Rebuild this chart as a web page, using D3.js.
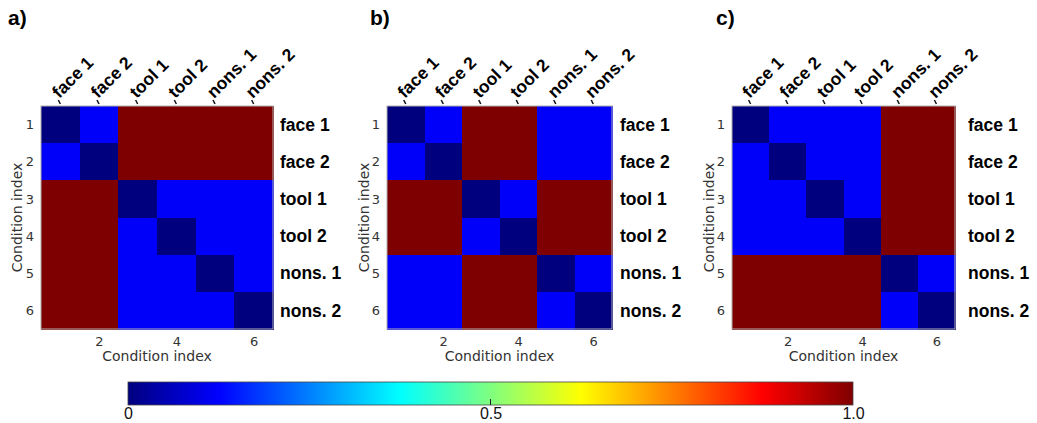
<!DOCTYPE html>
<html>
<head>
<meta charset="utf-8">
<script src="https://cdn.jsdelivr.net/npm/d3@7"></script>
<style>
  body { margin: 0; background: #fff; }
  svg { display: block; }
</style>
</head>
<body>
<svg id="chart"></svg>
<script>
// data
const conditions = ["face 1", "face 2", "tool 1", "tool 2", "nons. 1", "nons. 2"];
const panelLetters = ["a)", "b)", "c)"];
const xTicks = [2, 4, 6];
const yTicks = [1, 2, 3, 4, 5, 6];
const cbarTicks = [0, 0.5, 1.0];
const cbarTickLabels = ["0", "0.5", "1.0"];

const matrixA = [
  [0, 0.12, 1, 1, 1, 1],
  [0.12, 0, 1, 1, 1, 1],
  [1, 1, 0, 0.12, 0.12, 0.12],
  [1, 1, 0.12, 0, 0.12, 0.12],
  [1, 1, 0.12, 0.12, 0, 0.12],
  [1, 1, 0.12, 0.12, 0.12, 0]
];
const matrixB = [
  [0, 0.12, 1, 1, 0.12, 0.12],
  [0.12, 0, 1, 1, 0.12, 0.12],
  [1, 1, 0, 0.12, 1, 1],
  [1, 1, 0.12, 0, 1, 1],
  [0.12, 0.12, 1, 1, 0, 0.12],
  [0.12, 0.12, 1, 1, 0.12, 0]
];
const matrixC = [
  [0, 0.12, 0.12, 0.12, 1, 1],
  [0.12, 0, 0.12, 0.12, 1, 1],
  [0.12, 0.12, 0, 0.12, 1, 1],
  [0.12, 0.12, 0.12, 0, 1, 1],
  [1, 1, 1, 1, 0, 0.12],
  [1, 1, 1, 1, 0.12, 0]
];

// layout
const W = 1037, H = 423;
const panels = [
  { m: matrixA, left: 41, right: 273, letterX: 8, labelX: 280, ylabX: 17 },
  { m: matrixB, left: 387, right: 612, letterX: 370, labelX: 620, ylabX: 364 },
  { m: matrixC, left: 732, right: 955, letterX: 716, labelX: 968, ylabX: 709 }
];
const plotTop = 106, plotBottom = 329;

// MATLAB jet colormap
const jet = d3.scaleLinear()
  .domain([0, 0.125, 0.375, 0.625, 0.875, 1])
  .range(["#00007f", "#0000ff", "#00ffff", "#ffff00", "#ff0000", "#7f0000"])
  .clamp(true);

const svg = d3.select("#chart").attr("width", W).attr("height", H);
const axisFont = "'DejaVu Sans', sans-serif";
const boldFont = "Arial, 'Liberation Sans', sans-serif";

panels.forEach((p, k) => {
  const g = svg.append("g");
  const x = d3.scaleLinear().domain([0.5, 6.5]).range([p.left, p.right]);
  const y = d3.scaleLinear().domain([0.5, 6.5]).range([plotTop, plotBottom]);

  const cells = [];
  p.m.forEach((row, i) => row.forEach((v, j) => cells.push({ r: i + 1, c: j + 1, v })));

  g.selectAll("rect.cell")
    .data(cells)
    .join("rect")
    .attr("class", "cell")
    .attr("x", d => x(d.c - 0.5))
    .attr("y", d => y(d.r - 0.5))
    .attr("width", d => x(d.c + 0.5) - x(d.c - 0.5) + 0.6)
    .attr("height", d => y(d.r + 0.5) - y(d.r - 0.5) + 0.6)
    .attr("shape-rendering", "crispEdges")
    .attr("fill", d => jet(d.v));

  // box
  g.append("rect")
    .attr("x", p.left).attr("y", plotTop)
    .attr("width", p.right - p.left).attr("height", plotBottom - plotTop)
    .attr("fill", "none").attr("stroke", "#b0b0b0").attr("stroke-width", 1);

  // bottom axis
  const xa = g.append("g").attr("transform", `translate(0,${plotBottom})`)
    .call(d3.axisBottom(x).tickValues(xTicks).tickFormat(d3.format("d")).tickSize(0).tickPadding(8));
  xa.select(".domain").remove();
  xa.selectAll("text").attr("font-family", axisFont).attr("font-size", 13).attr("fill", "#333");

  // left axis
  const ya = g.append("g").attr("transform", `translate(${p.left},0)`)
    .call(d3.axisLeft(y).tickValues(yTicks).tickFormat(d3.format("d")).tickSize(0).tickPadding(7));
  ya.select(".domain").remove();
  ya.selectAll("text").attr("font-family", axisFont).attr("font-size", 13).attr("fill", "#333");

  g.append("text")
    .attr("x", (p.left + p.right) / 2).attr("y", 361)
    .attr("text-anchor", "middle")
    .attr("font-family", axisFont).attr("font-size", 14).attr("fill", "#333")
    .text("Condition index");

  g.append("text")
    .attr("transform", `translate(${p.ylabX},${(plotTop + plotBottom) / 2}) rotate(-90)`)
    .attr("text-anchor", "middle").attr("dy", "0.35em")
    .attr("font-family", axisFont).attr("font-size", 14).attr("fill", "#333")
    .text("Condition index");

  // top tick marks
  g.selectAll("line.tt")
    .data(yTicks)
    .join("line")
    .attr("class", "tt")
    .attr("x1", d => x(d)).attr("x2", d => x(d) - 2)
    .attr("y1", plotTop - 2).attr("y2", plotTop - 6)
    .attr("stroke", "#111").attr("stroke-width", 1.5);

  // rotated column labels
  g.selectAll("text.col")
    .data(conditions)
    .join("text")
    .attr("class", "col")
    .attr("transform", (d, i) => `translate(${x(i + 1) - 1},${plotTop - 7}) rotate(-45)`)
    .attr("font-family", boldFont).attr("font-weight", "bold").attr("font-size", 17.5)
    .attr("fill", "#000")
    .text(d => d);

  // row labels
  g.selectAll("text.row")
    .data(conditions)
    .join("text")
    .attr("class", "row")
    .attr("x", p.labelX)
    .attr("y", (d, i) => y(i + 1))
    .attr("dy", "0.35em")
    .attr("font-family", boldFont).attr("font-weight", "bold").attr("font-size", 17.5)
    .attr("fill", "#000")
    .text(d => d);

  // panel letter
  g.append("text")
    .attr("x", p.letterX).attr("y", 25)
    .attr("font-family", boldFont).attr("font-weight", "bold").attr("font-size", 21)
    .attr("fill", "#000")
    .text(panelLetters[k]);
});

// colorbar
const cb = { left: 128, right: 853, top: 382, bottom: 405 };
const cx = d3.scaleLinear().domain([0, 1]).range([cb.left, cb.right]);
const defs = svg.append("defs");
const grad = defs.append("linearGradient").attr("id", "jetgrad");
grad.selectAll("stop")
  .data(jet.domain())
  .join("stop")
  .attr("offset", d => d)
  .attr("stop-color", d => jet(d));

svg.append("rect")
  .attr("x", cb.left).attr("y", cb.top)
  .attr("width", cb.right - cb.left).attr("height", cb.bottom - cb.top)
  .attr("fill", "url(#jetgrad)")
  .attr("stroke", "#444").attr("stroke-width", 0.8);

const ca = svg.append("g").attr("transform", `translate(0,${cb.bottom})`)
  .call(d3.axisBottom(cx).tickValues(cbarTicks).tickSize(0).tickPadding(3)
    .tickFormat((d, i) => cbarTickLabels[i]));
ca.select(".domain").remove();
ca.selectAll("text")
  .attr("font-family", "'Liberation Sans Narrow', 'Arial Narrow', sans-serif")
  .attr("font-stretch", "condensed")
  .attr("font-size", 16).attr("fill", "#111");

svg.append("line")
  .attr("x1", cx(0.5)).attr("x2", cx(0.5))
  .attr("y1", cb.bottom).attr("y2", cb.bottom - 6)
  .attr("stroke", "#222").attr("stroke-width", 1);
</script>
</body>
</html>
